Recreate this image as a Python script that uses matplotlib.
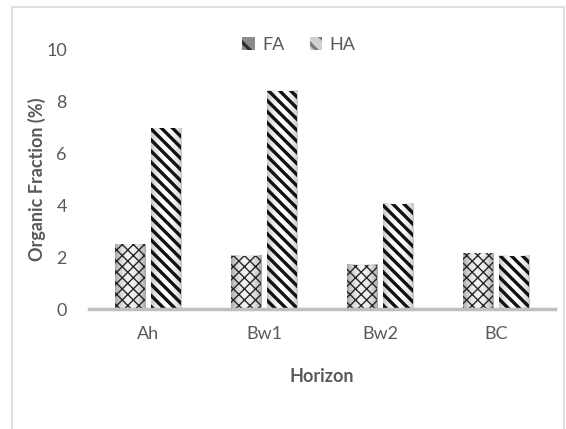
import matplotlib
matplotlib.use("Agg")
import matplotlib.pyplot as plt
from matplotlib.patches import Patch, Rectangle
import numpy as np

horizons = ["Ah", "Bw1", "Bw2", "BC"]
fa = [2.5, 2.05, 1.7, 2.15]
ha = [6.95, 8.4, 4.05, 2.05]
series = ["FA", "HA"]

plt.rcParams["font.family"] = ["Lato", "DejaVu Sans"]

fig = plt.figure(figsize=(5.66, 4.29), dpi=100)
ax = fig.add_axes([89 / 566, 120 / 429, 466 / 566, 260 / 429])

# outer chart border like the spreadsheet frame
fig.patches.append(Rectangle((12 / 566, -0.01), 552 / 566, 1 - 7 / 429 + 0.01,
                             transform=fig.transFigure, fill=False,
                             edgecolor="#d9d9d9", linewidth=1.2))

x = np.arange(len(horizons))
w = 0.26
gap = 0.05


def gradient(edge, mid):
    t = np.linspace(-1, 1, 64)
    v = edge + (mid - edge) * (1 - t ** 2)
    return np.tile(v, (2, 1))


def draw_bars(xs, vals, hatch, hcolor, hlw, edge, mid):
    g = gradient(edge, mid)
    for xi, v in zip(xs, vals):
        ax.imshow(g, cmap="gray", vmin=0, vmax=1, aspect="auto",
                  extent=(xi - w / 2, xi + w / 2, 0, v), zorder=2,
                  interpolation="bilinear")
    bars = ax.bar(xs, vals, width=w, facecolor="none", edgecolor=hcolor,
                  hatch=hatch, linewidth=0, zorder=3)
    for b in bars:
        if hasattr(b, "set_hatch_linewidth"):
            b.set_hatch_linewidth(hlw)
    return bars


plt.rcParams["hatch.linewidth"] = 1.0
draw_bars(x - (w + gap) / 2, fa, "xxx", "#262626", 1.0, 0.66, 0.95)
plt.rcParams["hatch.linewidth"] = 2.4
draw_bars(x + (w + gap) / 2, ha, "\\\\\\", "#111111", 2.4, 0.78, 1.0)

ax.set_xlim(-0.51, 3.51)
ax.set_ylim(0, 10)
ax.set_yticks([0, 2, 4, 6, 8, 10])
ax.set_xticks(x)
ax.set_xticklabels(horizons)
ax.tick_params(axis="both", length=0, labelsize=13, colors="#595959")
ax.tick_params(axis="x", pad=12)
ax.tick_params(axis="y", pad=16)

for s in ["top", "right", "left"]:
    ax.spines[s].set_visible(False)
ax.spines["bottom"].set_color("#bfbfbf")
ax.spines["bottom"].set_linewidth(2.5)
ax.spines["bottom"].set_zorder(4)

ax.set_ylabel("Organic Fraction (%)", fontsize=13, fontweight="bold",
              color="#595959", labelpad=0)
ax.set_xlabel("Horizon", fontsize=13, fontweight="bold", color="#595959",
              labelpad=19)

handles = [Patch(facecolor="#8c8c8c", edgecolor="#303030", hatch="\\", linewidth=0),
           Patch(facecolor="#d0d0d0", edgecolor="#7a7a7a", hatch="\\\\", linewidth=0)]
leg = ax.legend(handles, series, loc="upper center", bbox_to_anchor=(0.45, 1.11),
                ncol=2, frameon=False, fontsize=13, handlelength=0.7,
                handleheight=0.7, columnspacing=1.4, handletextpad=0.4)
for t in leg.get_texts():
    t.set_color("#595959")

fig.savefig("out.png", dpi=100)
